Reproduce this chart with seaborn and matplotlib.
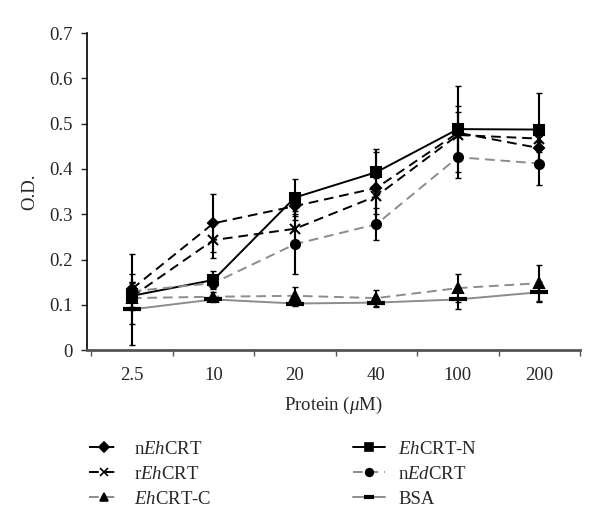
import numpy as np
import matplotlib
matplotlib.use("Agg")
import matplotlib.pyplot as plt
import seaborn as sns

sns.set_style("ticks")
plt.rcParams["font.family"] = ["Liberation Serif", "DejaVu Serif"]
plt.rcParams["mathtext.fontset"] = "custom"
plt.rcParams["mathtext.rm"] = "Liberation Serif"
plt.rcParams["mathtext.it"] = "Liberation Serif:italic"

concs = ["2.5", "10", "20", "40", "100", "200"]

n_eh = [0.135, 0.280, 0.318, 0.358, 0.480, 0.446]
n_eh_err = [0.078, 0.064, 0.030, 0.080, 0.060, 0.040]
r_eh = [0.118, 0.243, 0.268, 0.340, 0.475, 0.467]
r_eh_err = [0.030, 0.040, 0.040, 0.040, 0.050, 0.030]
eh_c = [0.115, 0.118, 0.120, 0.115, 0.137, 0.148]
eh_c_err = [0.020, 0.010, 0.020, 0.018, 0.031, 0.040]
eh_n = [0.120, 0.155, 0.337, 0.393, 0.488, 0.487]
eh_n_err = [0.030, 0.020, 0.040, 0.050, 0.095, 0.080]
n_ed = [0.130, 0.148, 0.234, 0.278, 0.426, 0.412]
n_ed_err = [0.020, 0.010, 0.066, 0.035, 0.045, 0.047]
bsa = [0.090, 0.112, 0.103, 0.105, 0.112, 0.128]
bsa_err = [0.078, 0.006, 0.005, 0.010, 0.022, 0.022]

labels = [r"n$\mathit{Eh}$CRT", r"r$\mathit{Eh}$CRT", r"$\mathit{Eh}$CRT-C",
          r"$\mathit{Eh}$CRT-N", r"n$\mathit{Ed}$CRT", "BSA"]

series = [
    (n_eh, n_eh_err, "black", (0, (5, 3)), "D", 5.5),
    (r_eh, r_eh_err, "black", (0, (5, 3)), "x", 7),
    (eh_c, eh_c_err, "#8c8c8c", (0, (5, 3)), "^", 6.5),
    (eh_n, eh_n_err, "black", "-", "s", 6.5),
    (n_ed, n_ed_err, "#8c8c8c", (0, (5, 3)), "o", 6.5),
    (bsa, bsa_err, "#8c8c8c", "-", "_", 13),
]

pos = np.arange(len(concs))

fig = plt.figure(figsize=(6, 5.25), dpi=100)
ax = fig.add_axes([0.145, 0.333, 0.822, 0.604])

handles = []
for (vals, errs, col, ls, mk, ms), lab in zip(series, labels):
    ax.errorbar(pos, vals, yerr=errs, fmt="none", ecolor="black",
                elinewidth=1.5, capsize=2.5, capthick=1, zorder=2)
    sns.lineplot(x=pos, y=vals, ax=ax, color=col, linestyle=ls, lw=1.4,
                 marker=mk, markersize=ms, markerfacecolor="black",
                 markeredgecolor="black", legend=False,
                 markeredgewidth=3 if mk == "_" else 1.5, zorder=3)
    h, = ax.plot([], [], color=col, linestyle=ls, lw=1.4, marker=mk,
                 markersize=ms * 0.85 if mk != "_" else 7,
                 markerfacecolor="black", markeredgecolor="black",
                 markeredgewidth=3 if mk == "_" else 1.2, label=lab)
    handles.append(h)

ax.set_xlim(-0.55, 5.5)
ax.set_ylim(0, 0.7)
ax.set_yticks(np.arange(0, 0.71, 0.1))
ax.set_yticklabels(["0"] + [f"{v:.1f}" for v in np.arange(0.1, 0.71, 0.1)])
ax.set_xticks(pos)
ax.set_xticklabels(concs)
ax.set_xticks(np.arange(-0.5, 5.6, 1), minor=True)
ax.tick_params(axis="x", which="major", length=0, pad=12, labelsize=13.5)
ax.tick_params(axis="x", which="minor", length=4, width=1, color="#555555")
ax.tick_params(axis="y", length=4, width=1, labelsize=13.5, pad=6)
ax.set_xlabel(r"Protein ($\mathit{μ}$M)", fontsize=13.5, labelpad=8)
ax.set_ylabel("O.D.", fontsize=13.5, labelpad=8)

sns.despine(ax=ax)
ax.spines["left"].set_color("black")
ax.spines["left"].set_linewidth(1.2)
ax.spines["bottom"].set_color("#555555")
ax.spines["bottom"].set_linewidth(2)

fig.legend(handles=handles, ncol=2, loc="upper left",
           bbox_to_anchor=(0.135, 0.175), frameon=False, fontsize=13.5,
           handlelength=1.7, handletextpad=0.7, borderaxespad=0,
           labelspacing=0.42, columnspacing=7.6)

fig.savefig("out.png", dpi=100)
